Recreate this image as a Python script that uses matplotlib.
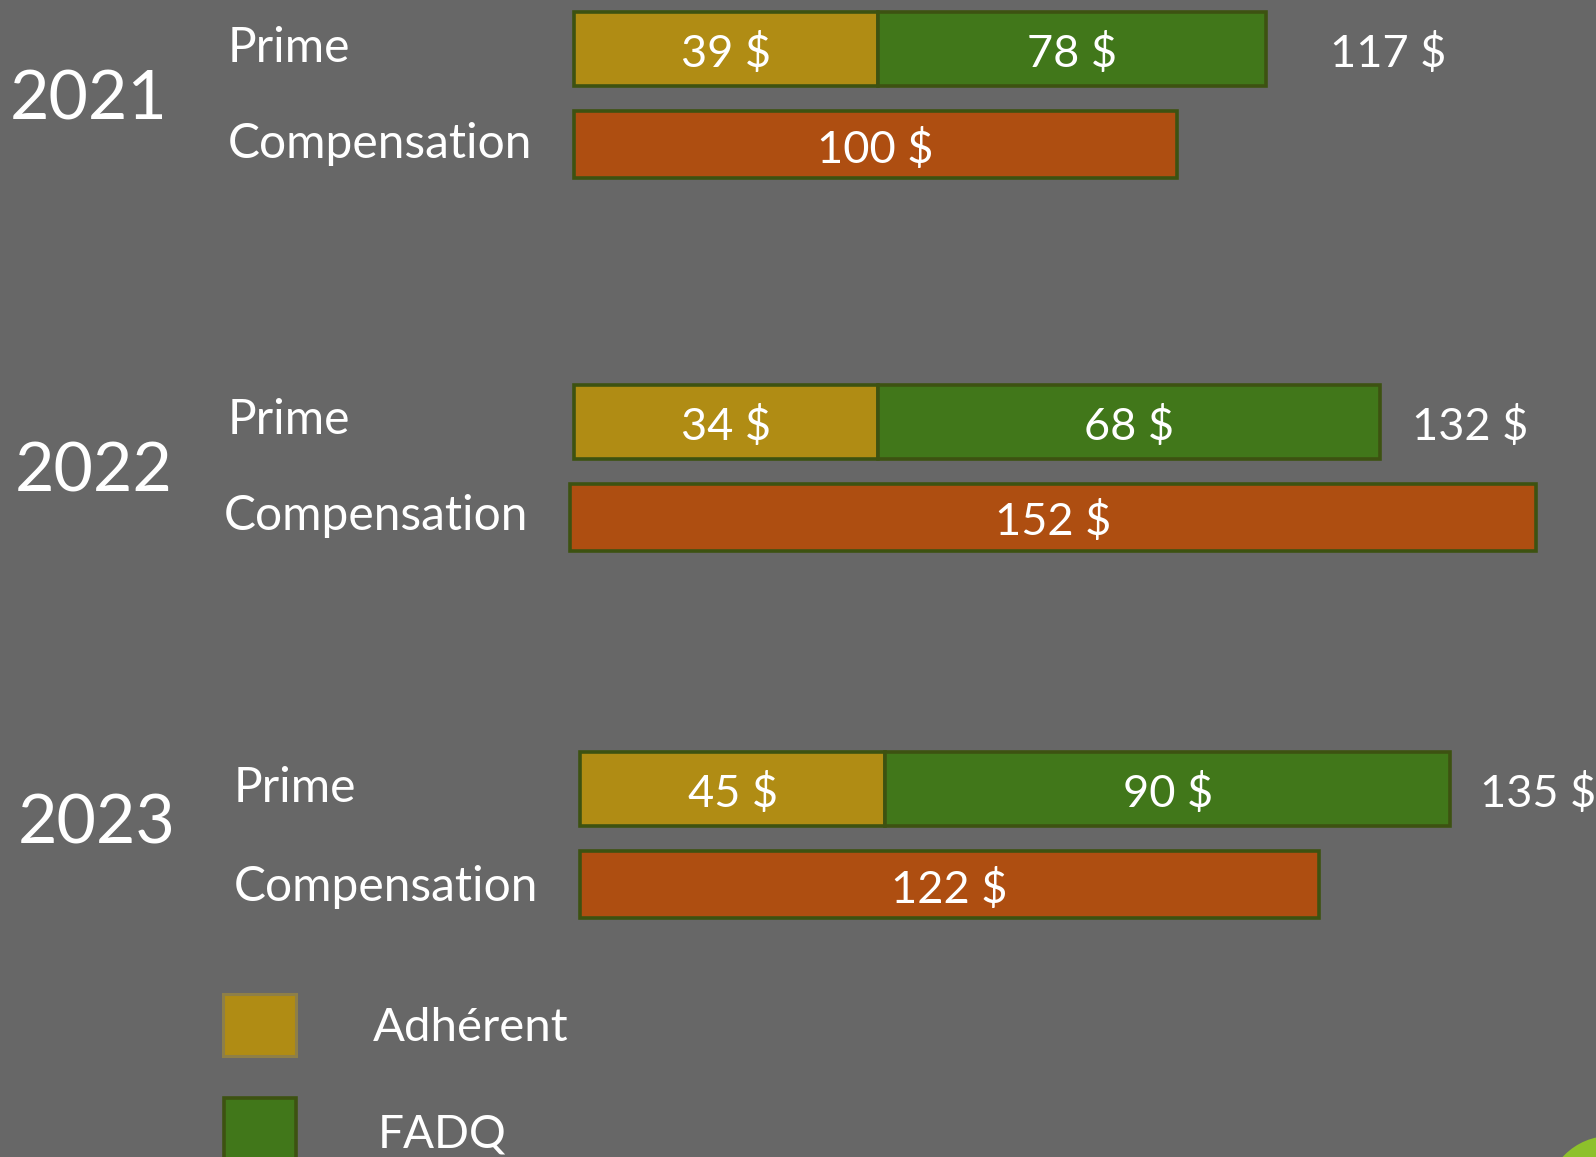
import matplotlib
matplotlib.use('Agg')
import matplotlib.pyplot as plt
from matplotlib.patches import Rectangle, Circle

plt.rcParams['font.family'] = ['Lato', 'DejaVu Sans']

# ---------------- data ----------------
years = ['2021', '2022', '2023']
categories = ['Prime', 'Compensation']
series = ['Adhérent', 'FADQ']
prime_adherent = [39, 34, 45]
prime_fadq = [78, 68, 90]
prime_total = [117, 132, 135]
compensation = [100, 152, 122]
# bar lengths as drawn in the picture (same scale, compensation 2021 = 100)
adherent_len = [50.4, 50.4, 50.6]
fadq_len = [64.3, 83.3, 93.7]
compensation_len = [100.0, 160.2, 122.6]

# ---------------- style / layout ----------------
W, H, DPI = 1596, 1157, 100
BG = '#676767'
C_ADH = '#B08C14'
C_FADQ = '#41771A'
C_COMP = '#AE4E11'
C_EDGE = '#3D5211'
C_LIME = '#8DC12B'
LW = 2.6
PX = 6.03          # pixels per unit
X0 = 574           # pixel of value 0
FS_VAL = 32.5
FS_CAT = 34.5
FS_YEAR = 49

prime_start = [0.0, 0.0, 1.0]
comp_start = [0.0, -0.66, 1.0]
prime_y = [49, 422, 788.5]
comp_y = [144.5, 517, 884.5]
prime_h, comp_h = 74, 67
total_off = [64, 32, 30]
year_xy = [(10, 120), (15, 492), (18, 843)]
prime_lab_xy = [(228, 62), (228, 434), (234, 802)]
comp_lab_xy = [(228, 158), (224, 530), (234, 901)]

fig = plt.figure(figsize=(W / DPI, H / DPI), dpi=DPI, facecolor=BG)
ax = fig.add_axes([0, 0, 1, 1])
ax.set_facecolor(BG)
ax.set_xlim(-X0 / PX, (W - X0) / PX)
ax.set_ylim(H, 0)
ax.axis('off')

lay = fig.add_axes([0, 0, 1, 1], facecolor='none')
lay.set_xlim(0, W)
lay.set_ylim(H, 0)
lay.axis('off')

for i, yr in enumerate(years):
    # Prime stacked bar
    ax.barh(prime_y[i], adherent_len[i], left=prime_start[i], height=prime_h,
            color=C_ADH, edgecolor=C_EDGE, linewidth=LW)
    ax.barh(prime_y[i], fadq_len[i], left=prime_start[i] + adherent_len[i],
            height=prime_h, color=C_FADQ, edgecolor=C_EDGE, linewidth=LW)
    # Compensation bar
    ax.barh(comp_y[i], compensation_len[i], left=comp_start[i], height=comp_h,
            color=C_COMP, edgecolor=C_EDGE, linewidth=LW)

    # value labels
    ax.text(prime_start[i] + adherent_len[i] / 2, prime_y[i] + 18,
            f'{prime_adherent[i]} $', ha='center', va='baseline',
            fontsize=FS_VAL, color='white')
    ax.text(prime_start[i] + adherent_len[i] + fadq_len[i] / 2, prime_y[i] + 18,
            f'{prime_fadq[i]} $', ha='center', va='baseline',
            fontsize=FS_VAL, color='white')
    ax.text(comp_start[i] + compensation_len[i] / 2, comp_y[i] + 18,
            f'{compensation[i]} $', ha='center', va='baseline',
            fontsize=FS_VAL, color='white')
    ax.annotate(f'{prime_total[i]} $',
                xy=(prime_start[i] + adherent_len[i] + fadq_len[i], prime_y[i] + 18),
                xytext=(total_off[i], 0), textcoords='offset pixels',
                ha='left', va='baseline', fontsize=FS_VAL, color='white')

    # year and category labels
    lay.text(*year_xy[i], yr, ha='left', va='baseline', fontsize=FS_YEAR, color='white')
    lay.text(*prime_lab_xy[i], categories[0], ha='left', va='baseline',
             fontsize=FS_CAT, color='white')
    lay.text(*comp_lab_xy[i], categories[1], ha='left', va='baseline',
             fontsize=FS_CAT, color='white')

# legend
lay.add_patch(Rectangle((223, 994), 73, 62, facecolor=C_ADH,
                        edgecolor='#8E7F47', linewidth=2.2))
lay.add_patch(Rectangle((224, 1098), 72, 70, facecolor=C_FADQ,
                        edgecolor=C_EDGE, linewidth=2.6))
lay.text(373, 1041, series[0], ha='left', va='baseline', fontsize=34, color='white')
lay.text(378, 1147, series[1], ha='left', va='baseline', fontsize=33, color='white')

# decorative corner circle
lay.add_patch(Circle((1610, 1200), 64, facecolor=C_LIME, edgecolor='none'))

fig.savefig('out.png', dpi=DPI, facecolor=BG)
